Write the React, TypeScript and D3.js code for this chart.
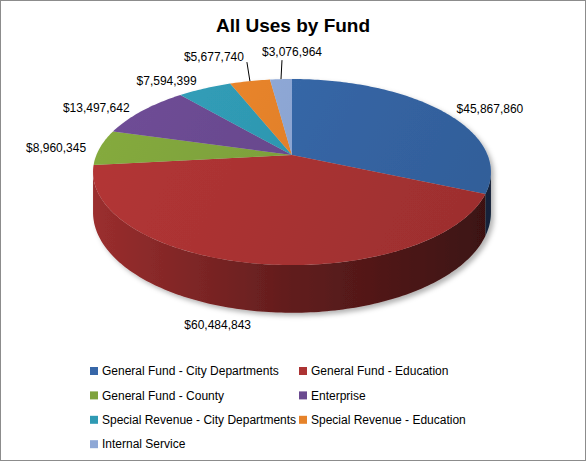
import React from 'react';
import * as d3 from 'd3';

// chart data
const categories = [
  'General Fund - City Departments',
  'General Fund - Education',
  'General Fund - County',
  'Enterprise',
  'Special Revenue - City Departments',
  'Special Revenue - Education',
  'Internal Service',
];
const values = [45867860, 60484843, 8960345, 13497642, 7594399, 5677740, 3076964];
const colors = ['#3767A8', '#AC3333', '#7FA33C', '#6A4A90', '#2F9AB3', '#E6832A', '#8EA8D6'];
const title = 'All Uses by Fund';

// label placement relative to the slice's rim point (px), and leader line ends
const labelOffsets = [[49, -2], [-38, 14], [-44, 0], [-46, -3], [-38, -8], [-36, -24], [11, -27]];
const leaderEnds: (number[] | null)[] = [null, null, null, null, null, [-3, -19], [1, -19]];

const W = 587;
const H = 462;

// perspective view of the pie disc
const cx = 292;
const cy = 155;
const R = 195.6;
const Q = 89.9;
const K = 0.183;
const depth = 39;

function proj(theta: number, r = 1, z = 0): [number, number] {
  const X = r * Math.sin(theta);
  const Z = r * Math.cos(theta);
  const w = 1 + K * Z;
  return [cx + (R * X) / w, cy - (Q * Z) / w + (z * depth) / w];
}

function arcPts(a0: number, a1: number, z: number) {
  const n = Math.max(2, Math.ceil(Math.abs(a1 - a0) / (Math.PI / 180)));
  return d3.range(n + 1).map(i => proj(a0 + ((a1 - a0) * i) / n, 1, z));
}

const fmt = d3.format('$,.0f');
const line = d3.line();

export default function App() {
  const arcs = d3.pie<number>().sort(null).value(d => d)(values);
  const side0 = Math.acos(-K);
  const side1 = 2 * Math.PI - side0;
  const left = cx - R * 1.02;
  const right = cx + R * 1.02;

  const font = '"Liberation Sans", Arial, sans-serif';

  return (
    <div style={{ position: 'absolute', left: 0, top: 0 }}>
      <svg width={W} height={H} style={{ display: 'block', background: '#fff' }}>
        <defs>
          <filter id="shadow" x="-10%" y="-10%" width="130%" height="140%">
            <feDropShadow dx="3" dy="3" stdDeviation="2.5" floodColor="#000" floodOpacity="0.3" />
          </filter>
          {colors.map((c, i) => (
            <linearGradient key={'w' + i} id={'wall' + i} gradientUnits="userSpaceOnUse" x1={left} y1={0} x2={right} y2={0}>
              <stop offset="0" stopColor={d3.color(c)!.darker(0.3).formatHex()} />
              <stop offset="0.5" stopColor={d3.color(c)!.darker(1.6).formatHex()} />
              <stop offset="1" stopColor={d3.color(c)!.darker(3).formatHex()} />
            </linearGradient>
          ))}
          {colors.map((c, i) => (
            <linearGradient key={'t' + i} id={'top' + i} gradientUnits="userSpaceOnUse" x1={left} y1={cy - 80} x2={right} y2={cy + 110}>
              <stop offset="0" stopColor={d3.color(c)!.brighter(0.15).formatHex()} />
              <stop offset="1" stopColor={d3.color(c)!.darker(0.3).formatHex()} />
            </linearGradient>
          ))}
        </defs>
        <rect x={0.5} y={0.5} width={W - 2} height={H - 2} fill="#fff" stroke="#8c8c8c" />
        <text x={293} y={32} textAnchor="middle" fontFamily={font} fontWeight="bold" fontSize={19} fill="#000">
          {title}
        </text>

        <g filter="url(#shadow)">
          {arcs.map((a, i) => {
            const s = Math.max(a.startAngle, side0);
            const e = Math.min(a.endAngle, side1);
            if (s >= e) return null;
            const pts = arcPts(s, e, 0).concat(arcPts(e, s, 1));
            return <path key={'wall' + i} d={line(pts) + 'Z'} fill={`url(#wall${i})`} />;
          })}
          {arcs.map((a, i) => {
            const pts: [number, number][] = [proj(0, 0), ...arcPts(a.startAngle, a.endAngle, 0)];
            return <path key={'top' + i} d={line(pts) + 'Z'} fill={`url(#top${i})`} />;
          })}
        </g>

        {arcs.map((a, i) => {
          const mid = (a.startAngle + a.endAngle) / 2;
          const front = Math.cos(mid) < -0.9;
          const p = proj(mid, 1, front ? 1 : 0);
          const [dx, dy] = labelOffsets[i];
          const le = leaderEnds[i];
          return (
            <g key={'lab' + i}>
              {le && <line x1={p[0]} y1={p[1]} x2={p[0] + le[0]} y2={p[1] + le[1]} stroke="#000" strokeWidth={1} />}
              <text x={p[0] + dx} y={p[1] + dy} dy="0.35em" textAnchor="middle" fontFamily={font} fontSize={12} fill="#000">
                {fmt(values[i])}
              </text>
            </g>
          );
        })}

        <g fontFamily={font} fontSize={12} fill="#000">
          {categories.map((c, i) => {
            const col = i % 2;
            const row = Math.floor(i / 2);
            const x = col === 0 ? 90 : 299;
            const y = 371 + row * 24.4;
            return (
              <g key={'leg' + i}>
                <rect x={x} y={y - 4} width={8} height={8} fill={colors[i]} />
                <text x={x + 12} y={y} dy="0.35em">{c}</text>
              </g>
            );
          })}
        </g>
      </svg>
    </div>
  );
}
